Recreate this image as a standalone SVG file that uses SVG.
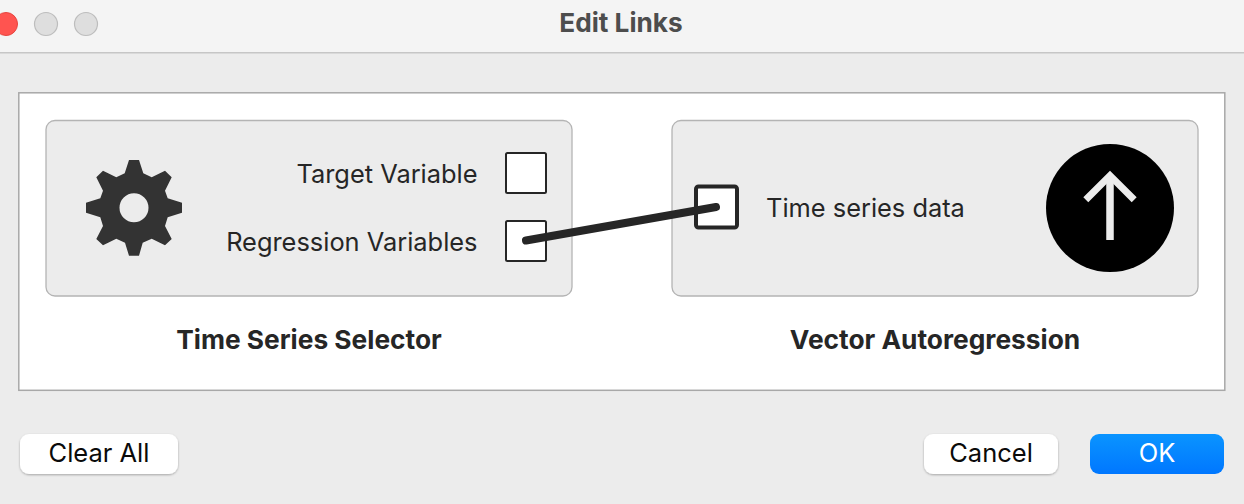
<svg xmlns="http://www.w3.org/2000/svg" width="1244" height="504" viewBox="0 0 1244 504">
<defs>
<linearGradient id="ok" x1="0" y1="0" x2="0" y2="1"><stop offset="0" stop-color="#0a94ff"/><stop offset="1" stop-color="#0077ff"/></linearGradient>
<filter id="sh" x="-10%" y="-20%" width="120%" height="150%"><feDropShadow dx="0" dy="1" stdDeviation="1" flood-color="#000" flood-opacity="0.3"/></filter>
</defs>
<style>
text{font-family:Inter,"Noto Sans","Liberation Sans",sans-serif;fill:#262626}
.lab{font-size:25.4px}
.ttl{font-size:26.3px;font-weight:700;text-anchor:middle}
.btn{font-size:25.5px;text-anchor:middle;fill:#0a0a0a}
.panel{fill:#ececec;stroke:#b4b4b4;stroke-width:1.3}
.port{fill:#fff;stroke:#262626;stroke-width:2}
.port.on{stroke-width:4}
.traffic{fill:#dedede;stroke:#bdbdbd;stroke-width:1.2}
</style>
<rect width="1244" height="504" fill="#ececec"/>
<g id="titlebar">
<rect width="1244" height="52" fill="#f4f4f4"/>
<rect y="52" width="1244" height="1.5" fill="#c6c6c6"/>
<circle cx="6" cy="24" r="11.5" fill="#ff5450" stroke="#e6453f" stroke-width="1"/>
<circle class="traffic" cx="46" cy="24" r="11.5"/>
<circle class="traffic" cx="86" cy="24" r="11.5"/>
<text x="621" y="32" font-size="26.2" font-weight="700" text-anchor="middle" style="fill:#4d4d4d">Edit Links</text>
</g>
<rect id="canvas" x="18.8" y="92.8" width="1206" height="297.500" fill="#fff" stroke="#a8a8a8" stroke-width="1.500"/>
<g id="selector">
<rect class="panel" x="46" y="120.500" width="526" height="175.500" rx="9"/>
<path fill="#333" fill-rule="evenodd" d="M129 160H139L143.300 173.300 151.700 177.300 165 170.700 171.700 177.300 165 190.700 167.700 198.300 182 202.700V212.700L167.700 217.300 165 226 171.700 239 165 245.300 151.700 238.700 142.700 242.700 139 255.700H129L125 242.700 116.300 238.700 103 245.300 96.300 239 103 226 100.300 217.300 86 212.700V202.700L100.300 198.300 103 190.700 96.300 177.300 103 170.700 116.300 177.300 124.700 173.300ZM134 193.300A14.500 14.500 0 1 0 134 222.300 14.500 14.500 0 1 0 134 193.300Z"/>
<text class="lab" x="477.500" y="183" text-anchor="end">Target Variable</text>
<text class="lab" x="477.500" y="251" text-anchor="end">Regression Variables</text>
<rect class="port" x="506" y="153" width="40" height="40" rx="1.500"/>
<rect class="port" x="506" y="221" width="40" height="40" rx="1.500"/>
<text class="ttl" x="309" y="349">Time Series Selector</text>
</g>
<g id="var">
<rect class="panel" x="672" y="120.500" width="526" height="175.500" rx="9"/>
<rect class="port on" x="696" y="186.500" width="41" height="41" rx="2.500"/>
<text class="lab" x="766" y="217">Time series data</text>
<circle cx="1110" cy="208" r="64" fill="#000"/>
<path d="M1110 240V178" fill="none" stroke="#ececec" stroke-width="7.500"/>
<path d="M1085.800 199.800L1110 175.600 1134.200 199.800" fill="none" stroke="#ececec" stroke-width="7"/>
<text class="ttl" x="935" y="349">Vector Autoregression</text>
</g>
<g id="connectors">
<line x1="526" y1="240.500" x2="716" y2="207" stroke="#262626" stroke-width="8" stroke-linecap="round"/>
</g>
<g id="clear-all">
<rect x="20" y="434" width="158" height="40" rx="9" fill="#fff" filter="url(#sh)"/>
<text class="btn" x="99" y="462">Clear All</text>
</g>
<g id="cancel">
<rect x="924" y="434" width="134" height="40" rx="9" fill="#fff" filter="url(#sh)"/>
<text class="btn" x="991" y="462">Cancel</text>
</g>
<g id="ok-btn">
<rect x="1090" y="434" width="134" height="40" rx="9" fill="url(#ok)"/>
<text class="btn" x="1157" y="462" style="fill:#fff">OK</text>
</g>
</svg>
